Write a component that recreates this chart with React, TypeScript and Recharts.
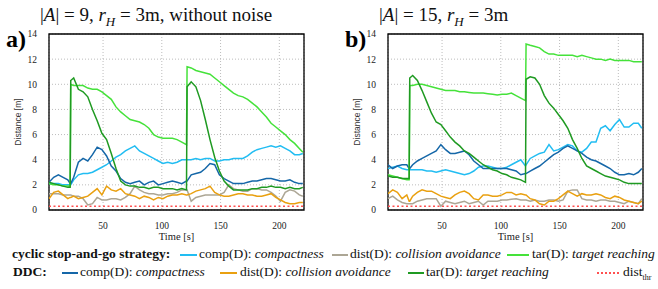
import React from "react";
import {
  LineChart,
  Line,
  XAxis,
  YAxis,
  CartesianGrid,
  ReferenceArea,
  ReferenceLine,
} from "recharts";

// time stamps [s] (shared by both panels; duplicated step at the target switches)
const time = [
  4, 8, 12, 16, 20, 22, 22.5,
  25, 29, 33, 37, 41, 45, 49, 53, 57, 61, 65, 69, 73, 77, 81, 85, 89, 93, 97, 101, 105, 109, 113, 117, 121,
  121.5,
  125, 129, 133, 137, 141, 145, 149, 153, 157, 161, 165, 169, 173, 177, 181, 185, 189, 193, 197, 201, 205, 209, 213, 217,
  220,
];

const xTicks = [50, 100, 150, 200];
const yTicks = [0, 2, 4, 6, 8, 10, 12, 14];
const distThr = 0.3;

// panel a) |A|=9, without noise
const aCycComp = [
  2.1, 2.1, 2.1, 2.0, 2.0, 2.0, 2.0,
  2.4, 2.8, 2.9, 2.9, 3.0, 3.2, 3.4, 3.6, 3.9, 4.2, 4.4, 4.7, 4.9, 5.1, 4.7, 4.5, 4.3, 4.1, 3.9, 3.7, 3.8, 3.7, 3.8, 4.0, 4.0,
  4.0,
  4.0, 4.1, 4.0, 4.1, 4.1, 3.9, 3.9, 4.0, 4.0, 4.1, 4.1, 4.1, 4.3, 4.6, 4.8, 4.9, 5.0, 5.1, 5.0, 5.1, 4.9, 4.7, 4.4, 4.4,
  4.5,
];
const aCycDist = [
  1.3, 1.3, 1.3, 1.2, 1.2, 1.2, 1.2,
  1.1, 1.1, 0.9, 0.4, 0.5, 1.0, 0.8, 0.8, 0.9, 0.9, 0.8, 1.0, 1.3, 1.9, 1.6, 1.4, 1.3, 1.3, 1.2, 1.2, 1.3, 1.3, 1.4, 1.6, 1.6,
  1.6,
  0.7, 1.0, 1.1, 1.2, 1.2, 1.2, 1.2, 1.4, 2.0, 1.7, 1.6, 1.5, 1.5, 1.7, 1.7, 1.6, 1.6, 1.4, 1.1, 0.7, 1.4, 1.6, 1.5, 1.2,
  1.1,
];
const aCycTar = [
  2.1, 2.0, 2.0, 1.9, 1.9, 1.9, 10.0,
  9.9, 9.9, 9.9, 9.7, 9.6, 9.6, 9.4, 9.1, 8.8, 8.2, 7.8, 7.5, 7.2, 7.1, 7.0, 6.8, 6.5, 6.0, 5.8, 5.7, 5.7, 5.7, 5.6, 5.4, 5.2,
  11.4,
  11.3, 11.1, 11.0, 10.9, 10.8, 10.5, 10.2, 9.9, 9.6, 9.3, 9.1, 9.0, 8.8, 8.5, 8.2, 7.8, 7.4, 6.9, 6.6, 6.3, 6.0, 5.6, 5.3, 4.9,
  4.6,
];
const aDdcComp = [
  2.2, 2.6, 2.8, 2.6, 2.4, 2.1, 2.1,
  2.6, 3.8, 4.1, 3.9, 4.4, 5.0, 4.8, 4.3, 3.5, 3.1, 2.5, 2.2, 2.1, 2.2, 2.3, 2.0, 2.2, 2.3, 2.0, 2.1, 2.2, 2.3, 2.2, 2.1, 2.3,
  2.3,
  2.8, 2.9, 3.0, 3.3, 3.7, 3.6, 2.8, 2.5, 2.3, 2.1, 2.1, 2.1, 2.2, 2.3, 2.3, 2.4, 2.5, 2.5, 2.4, 2.3, 2.3, 2.4, 2.2, 2.1,
  2.1,
];
const aDdcDist = [
  0.9, 1.4, 1.5, 1.2, 0.9, 1.0, 1.0,
  1.1, 0.9, 1.0, 1.1, 1.4, 1.7, 1.2, 1.9, 1.6, 1.5, 1.7, 1.3, 1.2, 1.1, 0.9, 1.1, 1.0, 0.8, 1.0, 0.9, 1.1, 1.2, 1.2, 1.3, 1.2,
  1.2,
  1.3, 1.5, 1.6, 1.7, 1.9, 1.4, 1.2, 1.1, 1.1, 1.2, 1.3, 1.3, 1.2, 1.2, 1.1, 1.1, 1.2, 1.3, 1.0, 0.8, 0.6, 0.5, 0.5, 0.6,
  0.6,
];
const aDdcTar = [
  2.2, 2.1, 2.0, 1.9, 1.8, 1.8, 10.3,
  10.5, 9.6, 9.4, 9.0, 8.0, 7.1, 6.1, 5.6, 4.5, 3.3, 2.3, 2.0, 1.9, 1.9, 1.8, 1.8, 1.7, 1.8, 1.8, 1.7, 1.7, 1.7, 1.6, 1.7, 1.6,
  9.8,
  10.2, 9.8, 8.7, 7.2, 5.6, 4.2, 3.1, 2.3, 1.9, 1.6, 1.6, 1.6, 1.6, 1.7, 1.7, 1.8, 1.8, 1.9, 1.8, 1.8, 1.7, 1.8, 1.7, 1.7,
  1.8,
];

// panel b) |A|=15
const bCycComp = [
  3.3, 3.4, 3.5, 3.3, 3.2, 3.2, 3.2,
  3.2, 3.2, 3.2, 3.1, 3.1, 3.0, 3.1, 3.2, 3.1, 3.0, 2.9, 2.8, 2.9, 3.1, 3.4, 3.5, 3.5, 3.4, 3.3, 3.3, 3.4, 3.6, 3.8, 4.0, 3.5,
  3.6,
  4.1, 4.3, 4.5, 4.6, 5.2, 4.7, 4.8, 5.0, 5.2, 5.1, 4.7, 4.6, 4.9, 5.4, 5.4, 6.5, 6.7, 6.3, 6.8, 7.2, 6.6, 6.6, 6.9, 6.9,
  6.5,
];
const bCycDist = [
  0.9, 1.1, 0.8, 0.6, 0.5, 0.5, 0.5,
  0.5, 0.7, 0.8, 0.9, 0.9, 0.9, 0.3, 0.7, 0.6, 0.5, 0.6, 0.7, 0.5, 0.6, 0.7, 0.4, 0.7, 0.7, 0.7, 0.8, 0.8, 0.85, 0.9, 0.8, 0.8,
  0.8,
  0.7, 0.8, 0.7, 0.7, 0.8, 0.8, 0.7, 0.8, 1.5, 1.6, 1.6, 0.9, 0.8, 0.8, 0.7, 0.8, 0.8, 0.7, 0.7, 0.6, 0.5, 0.7, 0.6, 0.5,
  0.9,
];
const bCycTar = [
  2.8, 2.7, 2.6, 2.5, 2.4, 2.4, 9.9,
  9.9, 10.0, 10.0, 9.9, 9.8, 9.7, 9.6, 9.5, 9.5, 9.5, 9.4, 9.4, 9.35, 9.3, 9.3, 9.3, 9.25, 9.2, 9.15, 9.2, 9.2, 9.3, 9.1, 8.9, 8.7,
  13.2,
  13.1, 13.0, 12.9, 12.6, 12.4, 12.4, 12.3, 12.3, 12.3, 12.3, 12.2, 12.3, 12.2, 12.1, 12.0, 12.0, 11.9, 12.0, 11.9, 11.9, 11.9, 11.9, 11.8, 11.8,
  11.8,
];
const bDdcComp = [
  3.6, 3.3, 3.5, 3.6, 3.6, 3.3, 3.3,
  3.6, 3.9, 4.1, 4.3, 4.5, 4.7, 5.2, 4.8, 4.5, 4.5, 4.6, 4.7, 4.4, 3.9, 3.6, 3.3, 3.3, 3.3, 3.3, 3.3, 3.3, 3.2, 3.1, 2.8, 2.9,
  2.9,
  3.1, 3.3, 3.5, 3.8, 4.1, 4.4, 4.6, 4.9, 5.1, 4.9, 4.7, 4.5, 4.2, 4.0, 3.9, 3.7, 3.5, 3.3, 3.0, 2.8, 2.8, 2.9, 2.8, 3.0,
  3.3,
];
const bDdcDist = [
  1.3, 1.6, 1.4, 0.9, 1.2, 0.7, 0.7,
  1.1, 1.4, 1.6, 1.5, 1.5, 1.3, 1.1, 1.0, 0.9, 1.2, 1.4, 1.5, 1.3, 0.9, 0.8, 1.2, 1.2, 1.1, 1.1, 1.2, 1.4, 1.4, 1.2, 1.3, 1.2,
  1.2,
  0.9, 0.8, 0.5, 0.4, 0.7, 0.7, 0.9, 1.2, 1.5, 1.3, 1.1, 1.3, 1.2, 1.2, 1.3, 1.2, 1.0, 0.9, 1.1, 1.0, 0.8, 0.7, 0.6, 0.5,
  0.7,
];
const bDdcTar = [
  2.7, 2.6, 2.6, 2.5, 2.5, 2.5, 10.5,
  10.7, 10.3, 9.5, 8.6, 7.7, 7.0, 6.8, 6.3, 5.8, 5.4, 5.1, 4.7, 4.5, 4.2, 3.9, 3.6, 3.4, 3.2, 3.1, 2.9, 2.8, 2.6, 2.5, 2.4, 2.2,
  10.4,
  10.6, 10.5, 10.0, 9.1, 8.5, 8.1, 7.6, 7.1, 6.5, 5.6, 4.9, 4.1, 3.5, 3.3, 3.1, 2.9, 2.7, 2.6, 2.5, 2.4, 2.2, 2.1, 2.1, 2.1,
  2.1,
];

const C = {
  cycComp: "#22bdf2",
  cycDist: "#aca695",
  cycTar: "#45e23a",
  ddcComp: "#1567a8",
  ddcDist: "#e9a010",
  ddcTar: "#1f9a22",
  thr: "#ff5050",
};

const serif = "Liberation Serif, Times New Roman, serif";
const sans = "Liberation Sans, Arial, sans-serif";

type PanelProps = {
  left: number;
  letter: string;
  title: React.ReactNode;
  cycComp: number[];
  cycDist: number[];
  cycTar: number[];
  ddcComp: number[];
  ddcDist: number[];
  ddcTar: number[];
};

const Panel = (p: PanelProps) => {
  const rows = time.map((t, i) => ({
    t,
    cycComp: p.cycComp[i],
    cycDist: p.cycDist[i],
    cycTar: p.cycTar[i],
    ddcComp: p.ddcComp[i],
    ddcDist: p.ddcDist[i],
    ddcTar: p.ddcTar[i],
  }));
  const tick = { fontSize: 9.5, fill: "#222", fontFamily: serif };
  return (
    <div style={{ position: "absolute", left: p.left, top: 0, width: 330, height: 245 }}>
      <LineChart
        width={330}
        height={245}
        data={rows}
        margin={{ top: 34, right: 26, bottom: 5, left: 0 }}
      >
        <CartesianGrid stroke="#bcbcbc" strokeDasharray="1 2" />
        <XAxis
          dataKey="t"
          type="number"
          domain={[4, 221]}
          ticks={xTicks}
          allowDataOverflow
          axisLine={false}
          tickLine={false}
          tickMargin={6}
          height={30}
          tick={tick}
          label={{
            value: "Time [s]",
            position: "insideBottom",
            offset: 0,
            style: { fontSize: 10.5, fill: "#222", fontFamily: serif },
          }}
        />
        <YAxis
          type="number"
          domain={[0, 14]}
          ticks={yTicks}
          axisLine={false}
          tickLine={false}
          tickMargin={6}
          width={49}
          tick={tick}
          label={{
            value: "Distance [m]",
            angle: -90,
            position: "insideLeft",
            offset: 18,
            style: { fontSize: 8.5, fill: "#333", fontFamily: sans, textAnchor: "middle" },
          }}
        />
        <ReferenceLine y={distThr} stroke={C.thr} strokeDasharray="2 2.5" strokeWidth={1.5} />
        <Line dataKey="cycDist" stroke={C.cycDist} strokeWidth={1.5} dot={false} isAnimationActive={false} />
        <Line dataKey="ddcDist" stroke={C.ddcDist} strokeWidth={1.5} dot={false} isAnimationActive={false} />
        <Line dataKey="cycComp" stroke={C.cycComp} strokeWidth={1.5} dot={false} isAnimationActive={false} />
        <Line dataKey="ddcComp" stroke={C.ddcComp} strokeWidth={1.5} dot={false} isAnimationActive={false} />
        <Line dataKey="cycTar" stroke={C.cycTar} strokeWidth={1.5} dot={false} isAnimationActive={false} />
        <Line dataKey="ddcTar" stroke={C.ddcTar} strokeWidth={1.5} dot={false} isAnimationActive={false} />
        <ReferenceArea x1={4} x2={221} y1={0} y2={14} fill="none" fillOpacity={0} stroke="#000" strokeWidth={1.3} />
      </LineChart>
      <div
        style={{
          position: "absolute",
          left: 40,
          top: 5,
          fontFamily: serif,
          fontSize: 19,
          lineHeight: 1,
          whiteSpace: "nowrap",
          color: "#111",
        }}
      >
        {p.title}
      </div>
      <div
        style={{
          position: "absolute",
          left: 6,
          top: 27,
          fontFamily: serif,
          fontWeight: "bold",
          fontSize: 24,
          lineHeight: 1,
          color: "#000",
        }}
      >
        {p.letter}
      </div>
    </div>
  );
};

const Key = ({
  lineX,
  lineW,
  textX,
  top,
  color,
  name,
  em,
  dotted,
  thick,
}: {
  lineX: number;
  lineW: number;
  textX: number;
  top: number;
  color: string;
  name: React.ReactNode;
  em?: string;
  dotted?: boolean;
  thick?: number;
}) => (
  <>
    <div
      style={{
        position: "absolute",
        left: lineX,
        top: top + 7,
        width: lineW,
        height: thick ?? 1.5,
        background: dotted
          ? `repeating-linear-gradient(90deg, ${color} 0 2px, transparent 2px 4px)`
          : color,
      }}
    />
    <div style={{ position: "absolute", left: textX, top, whiteSpace: "nowrap" }}>
      {name}
      {em && <i>{em}</i>}
    </div>
  </>
);

const App = () => {
  const row1 = 247;
  const row2 = 265;
  return (
    <div
      style={{
        position: "absolute",
        left: 0,
        top: 0,
        width: 658,
        height: 289,
        background: "#fff",
        fontFamily: serif,
        fontSize: 13.5,
        lineHeight: 1,
        color: "#111",
      }}
    >
      <Panel
        left={0}
        letter="a)"
        title={
          <span>
            |<i>A</i>| = 9, <i>r</i>
            <sub style={{ fontSize: 13 }}>
              <i>H</i>
            </sub>{" "}
            = 3m, without noise
          </span>
        }
        cycComp={aCycComp}
        cycDist={aCycDist}
        cycTar={aCycTar}
        ddcComp={aDdcComp}
        ddcDist={aDdcDist}
        ddcTar={aDdcTar}
      />
      <Panel
        left={339}
        letter="b)"
        title={
          <span>
            |<i>A</i>| = 15, <i>r</i>
            <sub style={{ fontSize: 13 }}>
              <i>H</i>
            </sub>{" "}
            = 3m
          </span>
        }
        cycComp={bCycComp}
        cycDist={bCycDist}
        cycTar={bCycTar}
        ddcComp={bDdcComp}
        ddcDist={bDdcDist}
        ddcTar={bDdcTar}
      />

      <div style={{ position: "absolute", left: 12, top: row1, fontWeight: "bold" }}>
        cyclic stop-and-go strategy:
      </div>
      <Key lineX={180} lineW={17} textX={199} top={row1} color={C.cycComp} name="comp(D): " em="compactness" />
      <Key lineX={332} lineW={16} textX={350} top={row1} color={C.cycDist} name="dist(D): " em="collision avoidance" />
      <Key lineX={507} lineW={22} textX={532} top={row1} color={C.cycTar} name="tar(D): " em="target reaching" />

      <div style={{ position: "absolute", left: 13, top: row2, fontWeight: "bold" }}>DDC:</div>
      <Key lineX={62} lineW={16} textX={80} top={row2} color={C.ddcComp} name="comp(D): " em="compactness" thick={2} />
      <Key lineX={220} lineW={17} textX={240} top={row2} color={C.ddcDist} name="dist(D): " em="collision avoidance" thick={2} />
      <Key lineX={408} lineW={16} textX={426} top={row2} color={C.ddcTar} name="tar(D): " em="target reaching" thick={2} />
      <Key
        lineX={597}
        lineW={23}
        textX={623}
        top={row2}
        color={C.thr}
        dotted
        thick={1.5}
        name={
          <span>
            dist<sub style={{ fontSize: 8 }}>thr</sub>
          </span>
        }
      />
    </div>
  );
};

export default App;
